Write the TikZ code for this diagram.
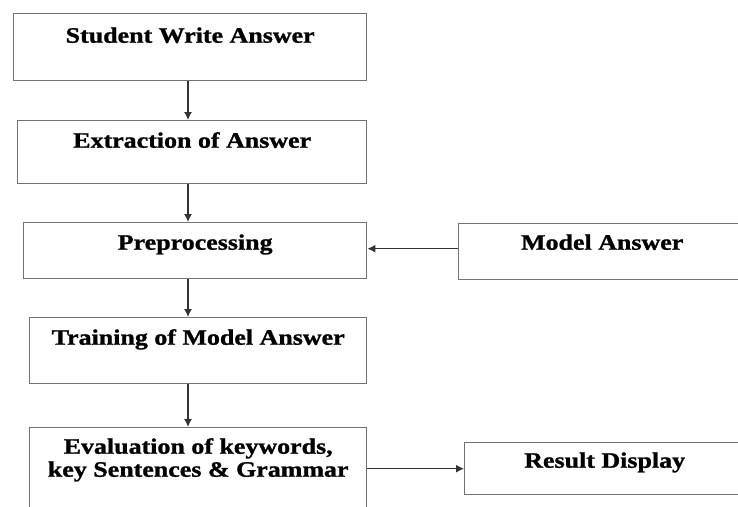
\documentclass[tikz,border=0pt]{standalone}
\usepackage{fontspec}
\setmainfont{Liberation Serif}[FakeStretch=1.18,BoldFeatures={FakeBold=1.2}]
\usepackage{tikz}
\usetikzlibrary{arrows.meta}

\begin{document}
\begin{tikzpicture}[x=1pt,y=-1pt,
    box/.style={draw=black!55,line width=1.4pt,inner sep=0pt,anchor=north west,
      font=\fontsize{22}{23}\selectfont\bfseries,align=center},
    arr/.style={draw=black!80,line width=1.3pt,-{Latex[length=8pt,width=8pt]}}]
              \clip (0,0) rectangle (738,506);
              \node [box,minimum width=353pt,text height=29pt,text depth=38pt] (stud) at (13,13) {Student Write Answer};
              \node [box,minimum width=349pt,text height=27pt,text depth=36pt] (extr) at (17,120) {Extraction of Answer};
              \node [box,minimum width=343pt,text height=27pt,text depth=29pt] (prep) at (23,222) {Preprocessing};
              \node [box,minimum width=287pt,text height=26pt,text depth=30pt] (model) at (458,223) {Model Answer};
              \node [box,minimum width=337pt,text height=27pt,text depth=39pt] (train) at (29,317) {Training of Model Answer};
              \node [box,minimum width=337pt,text height=49pt,text depth=50pt] (eval) at (29,427) {Evaluation of keywords,\\key Sentences \& Grammar};
              \node [box,minimum width=280pt,text height=25pt,text depth=27pt] (res) at (464,442) {Result Display};
              \coordinate (col) at (188,0);
              \draw [arr] (stud.south -| col) -- (extr.north -| col);
              \draw [arr] (extr.south -| col) -- (prep.north -| col);
              \draw [arr] (prep.south -| col) -- (train.north -| col);
              \draw [arr] (train.south -| col) -- (eval.north -| col);
              \draw [arr] ([yshift=3pt]model.west) -- ([yshift=3pt]model.west -| prep.east);
              \draw [arr] (eval.east |- res.west) -- (res.west);
\end{tikzpicture}
\end{document}
